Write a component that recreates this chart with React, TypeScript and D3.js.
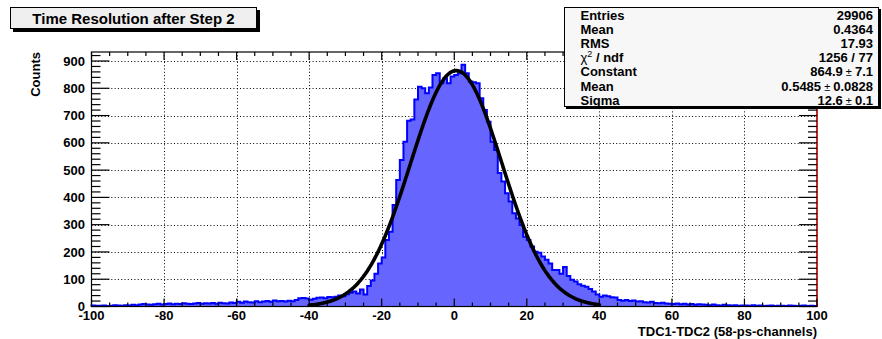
import * as d3 from "d3";

const W = 882;
const H = 339;
const FONT = "'Liberation Sans', Arial, Helvetica, sans-serif";

const FILL = "#6666ff";
const LINE = "#0000ff";

// histogram: 200 bins of width 1, lower edges -100 .. 99
const binLow = d3.range(-100, 100);
const counts = [
  4, 3, 3, 4, 2, 3, 5, 4, 3, 5,
  4, 6, 5, 7, 9, 7, 6, 8, 10, 7,
  9, 11, 8, 10, 9, 12, 10, 9, 11, 13,
  10, 12, 11, 13, 10, 14, 12, 11, 15, 13,
  17, 14, 18, 16, 15, 19, 16, 18, 20, 17,
  22, 19, 20, 18, 21, 19, 24, 30, 31, 29,
  25, 28, 32, 33, 30, 35, 34, 36, 40, 38,
  45, 50, 55, 48, 62, 44, 75, 95, 120, 158,
  180, 244, 274, 372, 464, 537, 604, 681, 686, 759,
  806, 800, 782, 803, 849, 855, 818, 837, 818, 843,
  849, 855, 886, 855, 825, 822, 818, 763, 720, 677,
  604, 574, 489, 458, 415, 385, 342, 323, 299, 256,
  244, 220, 201, 197, 183, 171, 158, 134, 134, 120,
  145, 112, 98, 92, 82, 76, 72, 64, 55, 44,
  36, 40, 38, 34, 33, 24, 21, 24, 20, 22,
  18, 19, 16, 15, 17, 13, 12, 14, 11, 10,
  9, 11, 8, 10, 7, 9, 6, 8, 7, 6,
  5, 7, 5, 4, 6, 5, 4, 5, 3, 4,
  4, 3, 5, 3, 4, 2, 3, 4, 2, 3,
  3, 2, 4, 3, 2, 3, 4, 2, 3, 2,
];

// gaussian fit result
const fitConst = 864.9;
const fitMean = 0.5485;
const fitSigma = 12.6;
const fitRange = [-40, 40];

const xLabels = [-100, -80, -60, -40, -20, 0, 20, 40, 60, 80, 100];
const yLabels = [0, 100, 200, 300, 400, 500, 600, 700, 800, 900];

const statNames = ["Entries", "Mean", "RMS", "chi", "Constant", "Mean", "Sigma"];
const statVals = ["29906", "0.4364", "17.93", "1256 / 77", "864.9|7.1", "0.5485|0.0828", "12.6|0.1"];

const frame = { left: 91.5, right: 817, top: 52, bottom: 306.5 };

const x = d3.scaleLinear().domain([-100, 100]).range([frame.left, frame.right]);
const y = d3.scaleLinear().domain([0, 933]).range([frame.bottom, frame.top]);

export default function App() {
  // step outline of the histogram
  const pts: [number, number][] = [[x(binLow[0]), y(0)]];
  binLow.forEach((lo, i) => {
    pts.push([x(lo), y(counts[i])]);
    pts.push([x(lo + 1), y(counts[i])]);
  });
  pts.push([x(100), y(0)]);
  const stepPath = d3.line()(pts) || "";

  const fitPts = d3.range(fitRange[0], fitRange[1] + 0.01, 0.25).map((v) => [
    x(v),
    y(fitConst * Math.exp(-0.5 * ((v - fitMean) / fitSigma) ** 2)),
  ] as [number, number]);
  const fitPath = d3.line().curve(d3.curveMonotoneX)(fitPts) || "";

  const xMinor = d3.range(-100, 101, 5);
  const yMinor = d3.range(0, 933, 20);

  const renderVal = (s: string) => {
    if (!s.includes("|")) return s;
    const [a, b] = s.split("|");
    return (
      <>
        {a}
        <tspan fontWeight={400} fontSize={11}>{" ± "}</tspan>
        {b}
      </>
    );
  };

  return (
    <svg width={W} height={H} style={{ position: "absolute", left: 0, top: 0, background: "#fff" }} fontFamily={FONT}>
      <rect x={0} y={0} width={W} height={H} fill="#fff" />

      {/* grid */}
      <g stroke="#000" strokeWidth={1} strokeDasharray="1 2.3">
        {xLabels.slice(1, -1).map((t) => (
          <line key={"gx" + t} x1={Math.round(x(t)) + 0.5} x2={Math.round(x(t)) + 0.5} y1={frame.top} y2={frame.bottom} />
        ))}
        {yLabels.slice(1).map((t) => (
          <line key={"gy" + t} x1={frame.left} x2={frame.right} y1={Math.round(y(t)) + 0.5} y2={Math.round(y(t)) + 0.5} />
        ))}
      </g>

      {/* histogram */}
      <path d={stepPath} fill={FILL} stroke="none" />
      <path d={stepPath} fill="none" stroke={LINE} strokeWidth={2} strokeLinejoin="miter" />

      {/* fit */}
      <path d={fitPath} fill="none" stroke="#000" strokeWidth={3.6} strokeLinecap="round" />

      {/* frame */}
      <rect x={frame.left} y={frame.top} width={frame.right - frame.left} height={frame.bottom - frame.top} fill="none" stroke="#000" strokeWidth={1.2} />
      <line x1={frame.right} x2={frame.right} y1={frame.top + 1} y2={frame.bottom} stroke="#ff0000" strokeWidth={1.2} />

      {/* x ticks bottom + top */}
      <g stroke="#000" strokeWidth={1.2}>
        {xMinor.map((t) => {
          const len = t % 20 === 0 ? 8 : 4;
          return (
            <g key={"xt" + t}>
              <line x1={x(t)} x2={x(t)} y1={frame.bottom} y2={frame.bottom - len} />
              <line x1={x(t)} x2={x(t)} y1={frame.top} y2={frame.top + len} />
            </g>
          );
        })}
        {yMinor.map((t) => {
          const len = t % 100 === 0 ? 18 : 9;
          return (
            <g key={"yt" + t}>
              <line x1={frame.left} x2={frame.left + len} y1={y(t)} y2={y(t)} />
              <line x1={frame.right} x2={frame.right - len} y1={y(t)} y2={y(t)} />
            </g>
          );
        })}
      </g>

      {/* tick labels */}
      <g fontSize={13} fontWeight={700} fill="#000">
        {xLabels.map((t) => (
          <text key={"xl" + t} x={x(t)} y={319.5} textAnchor="middle">{t}</text>
        ))}
        {yLabels.map((t) => (
          <text key={"yl" + t} x={85} y={y(t) + 4.6} textAnchor="end">{t}</text>
        ))}
      </g>

      {/* axis titles */}
      <text x={817} y={336} textAnchor="end" fontSize={13} fontWeight={700}>TDC1-TDC2 (58-ps-channels)</text>
      <text transform="translate(40,52) rotate(-90)" textAnchor="end" fontSize={13} fontWeight={700}>Counts</text>

      {/* title box */}
      <rect x={13} y={10} width={247} height={22} fill="#000" />
      <rect x={10.5} y={7.5} width={246} height={21} fill="#efefef" stroke="#000" strokeWidth={1} />
      <text x={133.5} y={23.5} textAnchor="middle" fontSize={15} fontWeight={700}>Time Resolution after Step 2</text>

      {/* stats box */}
      <rect x={566} y={9} width={315} height={100} fill="#000" />
      <rect x={564.5} y={7.5} width={314} height={99} fill="#f7f7f7" stroke="#000" strokeWidth={1} />
      <g fontSize={13} fontWeight={700}>
        {statNames.map((n, i) => (
          <text key={"sn" + i} x={580.5} y={19.8 + i * 14.15}>
            {n === "chi" ? (
              <>
                <tspan fontWeight={400}>χ</tspan>
                <tspan fontWeight={400} fontSize={9} dy={-5}>2</tspan>
                <tspan dy={5}>{" / ndf"}</tspan>
              </>
            ) : n}
          </text>
        ))}
        {statVals.map((v, i) => (
          <text key={"sv" + i} x={873} y={19.8 + i * 14.15} textAnchor="end">{renderVal(v)}</text>
        ))}
      </g>
    </svg>
  );
}
